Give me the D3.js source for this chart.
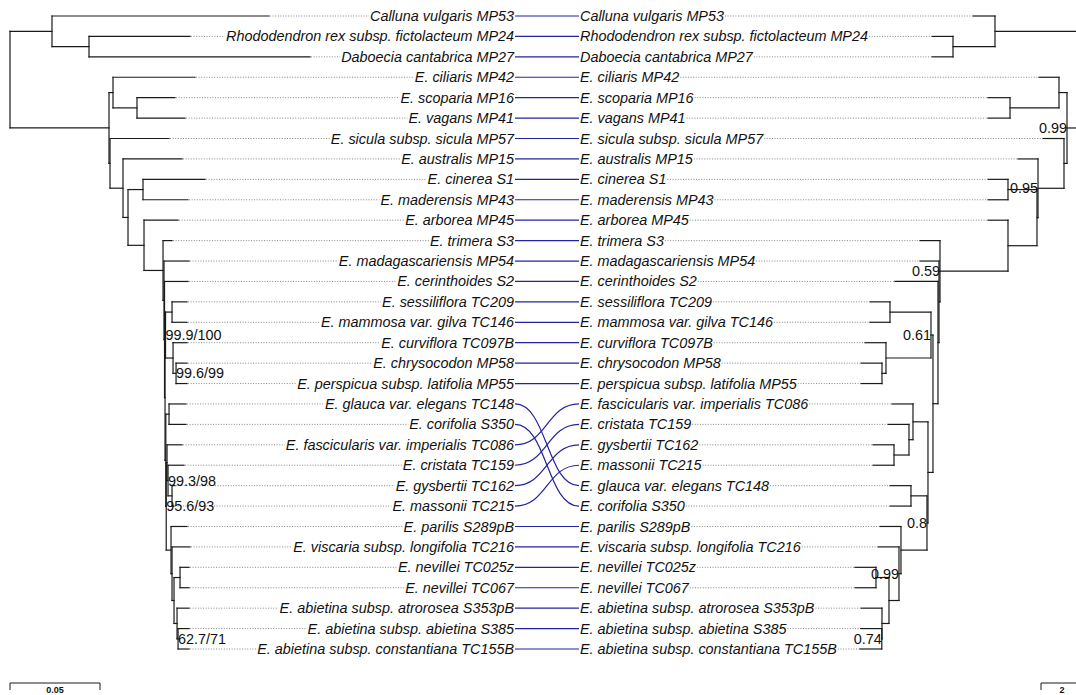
<!DOCTYPE html>
<html>
<head>
<meta charset="utf-8">
<script src="https://cdn.jsdelivr.net/npm/d3@7"></script>
<style>
  body { margin: 0; background: #fff; }
  svg { display: block; font-family: "Liberation Sans", Arial, Helvetica, sans-serif; }
</style>
</head>
<body>
<div id="chart"></div>
<script>
// tip code -> full label, in the order of the left tree
const taxa = [
  ["MP53", "Calluna vulgaris MP53"],
  ["MP24", "Rhododendron rex subsp. fictolacteum MP24"],
  ["MP27", "Daboecia cantabrica MP27"],
  ["MP42", "E. ciliaris MP42"],
  ["MP16", "E. scoparia MP16"],
  ["MP41", "E. vagans MP41"],
  ["MP57", "E. sicula subsp. sicula MP57"],
  ["MP15", "E. australis MP15"],
  ["S1", "E. cinerea S1"],
  ["MP43", "E. maderensis MP43"],
  ["MP45", "E. arborea MP45"],
  ["S3", "E. trimera S3"],
  ["MP54", "E. madagascariensis MP54"],
  ["S2", "E. cerinthoides S2"],
  ["TC209", "E. sessiliflora TC209"],
  ["TC146", "E. mammosa var. gilva TC146"],
  ["TC097B", "E. curviflora TC097B"],
  ["MP58", "E. chrysocodon MP58"],
  ["MP55", "E. perspicua subsp. latifolia MP55"],
  ["TC148", "E. glauca var. elegans TC148"],
  ["S350", "E. corifolia S350"],
  ["TC086", "E. fascicularis var. imperialis TC086"],
  ["TC159", "E. cristata TC159"],
  ["TC162", "E. gysbertii TC162"],
  ["TC215", "E. massonii TC215"],
  ["S289pB", "E. parilis S289pB"],
  ["TC216", "E. viscaria subsp. longifolia TC216"],
  ["TC025z", "E. nevillei TC025z"],
  ["TC067", "E. nevillei TC067"],
  ["S353pB", "E. abietina subsp. atrorosea S353pB"],
  ["S385", "E. abietina subsp. abietina S385"],
  ["TC155B", "E. abietina subsp. constantiana TC155B"]
];

// left tree: [parent, child, branch length] (substitutions/site)
const leftEdges = [
  ["", "nRoot", 0],
  ["nRoot", "nOut", 0.02333],
  ["nOut", "MP53", 0.12056],
  ["nOut", "nRD", 0.02056],
  ["nRD", "MP24", 0.05611],
  ["nRD", "MP27", 0.12278],
  ["nRoot", "nIng", 0.05500],
  ["nIng", "nCil", 0.00222],
  ["nCil", "MP42", 0.04556],
  ["nCil", "nSV", 0.01333],
  ["nSV", "MP16", 0.02111],
  ["nSV", "MP41", 0.02667],
  ["nIng", "nN1", 0.00056],
  ["nN1", "MP57", 0.03278],
  ["nN1", "nN2", 0.00722],
  ["nN2", "MP15", 0.03278],
  ["nN2", "nN3", 0.00278],
  ["nN3", "nCM", 0.00833],
  ["nCM", "S1", 0.03444],
  ["nCM", "MP43", 0.02500],
  ["nN3", "nN4", 0.00889],
  ["nN4", "MP45", 0.01889],
  ["nN4", "nMain", 0.01056],
  ["nMain", "S3", 0.00500],
  ["nMain", "nM2", 0.00056],
  ["nM2", "MP54", 0.01389],
  ["nM2", "nM3", 0.00028],
  ["nM3", "S2", 0.01306],
  ["nM3", "nM4", 0.00028],
  ["nM4", "nSM", 0.00028],
  ["nSM", "nSSM", 0.00361],
  ["nSSM", "TC209", 0.00833],
  ["nSSM", "TC146", 0.00833],
  ["nSM", "nCurv", 0.00417],
  ["nCurv", "TC097B", 0.00778],
  ["nCurv", "nCP", 0.00167],
  ["nCP", "MP58", 0.00611],
  ["nCP", "MP55", 0.00611],
  ["nM4", "nH", 0.00044],
  ["nH", "nGC", 0.00178],
  ["nGC", "TC148", 0.00944],
  ["nGC", "S350", 0.00944],
  ["nH", "nG", 0.00022],
  ["nG", "nF3", 0.00044],
  ["nF3", "TC086", 0.00833],
  ["nF3", "nF2", 0.00056],
  ["nF2", "TC159", 0.00889],
  ["nF2", "nF1", 0.00222],
  ["nF1", "TC162", 0.00167],
  ["nF1", "TC215", 0.00111],
  ["nG", "nPC", 0.00267],
  ["nPC", "S289pB", 0.00889],
  ["nPC", "nQ", 0.00056],
  ["nQ", "TC216", 0.01000],
  ["nQ", "nR", 0.00111],
  ["nR", "nNev", 0.00333],
  ["nNev", "TC025z", 0.00500],
  ["nNev", "TC067", 0.00500],
  ["nR", "nS", 0.00167],
  ["nS", "S353pB", 0.00667],
  ["nS", "nAC", 0.00056],
  ["nAC", "S385", 0.00611],
  ["nAC", "TC155B", 0.00611]
];
const leftSupport = [
  ["nSM", "99.9/100"],
  ["nCP", "99.6/99"],
  ["nF2", "99.3/98"],
  ["nG", "95.6/93"],
  ["nAC", "62.7/71"]
];

// right tree: [parent, child, branch length]
const rightEdges = [
  ["", "nRoot", 0],
  ["nRoot", "nOut", 4.048],
  ["nOut", "MP53", 1.048],
  ["nOut", "nRD", 2.0],
  ["nRD", "MP24", 1.0],
  ["nRD", "MP27", 1.0],
  ["nRoot", "nIng", 0.619],
  ["nIng", "nCil", 0.381],
  ["nCil", "MP42", 0.952],
  ["nCil", "nSV", 2.333],
  ["nSV", "MP16", 1.048],
  ["nSV", "MP41", 1.048],
  ["nIng", "nN1", 0.143],
  ["nN1", "MP57", 1.0],
  ["nN1", "nA", 1.238],
  ["nA", "MP15", 0.952],
  ["nA", "nB", 0.048],
  ["nB", "nCM", 1.381],
  ["nCM", "S1", 0.952],
  ["nCM", "MP43", 0.952],
  ["nB", "nC", 1.381],
  ["nC", "MP45", 0.952],
  ["nC", "nD", 3.238],
  ["nD", "S3", 0.952],
  ["nD", "nX", 0.048],
  ["nX", "MP54", 0.905],
  ["nX", "nW", 0.048],
  ["nW", "S2", 2.048],
  ["nW", "nV", 0.238],
  ["nV", "nK", 0.095],
  ["nK", "nSSM", 1.952],
  ["nSSM", "TC209", 0.952],
  ["nSSM", "TC146", 0.952],
  ["nK", "nCurv", 2.143],
  ["nCurv", "TC097B", 1.0],
  ["nCurv", "nCP", 0.19],
  ["nCP", "MP58", 1.0],
  ["nCP", "MP55", 1.0],
  ["nV", "nU", 0.238],
  ["nU", "nG2", 0.714],
  ["nG2", "TC086", 1.0],
  ["nG2", "nG1", 0.19],
  ["nG1", "TC159", 1.0],
  ["nG1", "nGM", 0.714],
  ["nGM", "TC162", 1.0],
  ["nGM", "TC215", 1.0],
  ["nU", "nT", 0.048],
  ["nT", "nGC", 0.762],
  ["nGC", "TC148", 1.0],
  ["nGC", "S350", 1.0],
  ["nT", "nP", 1.238],
  ["nP", "S289pB", 1.0],
  ["nP", "nQ", 0.095],
  ["nQ", "TC216", 1.0],
  ["nQ", "nR", 0.476],
  ["nR", "nNev", 0.619],
  ["nNev", "TC025z", 1.0],
  ["nNev", "TC067", 1.0],
  ["nR", "nS", 0.333],
  ["nS", "S353pB", 1.0],
  ["nS", "nAC", 0.01],
  ["nAC", "S385", 1.0],
  ["nAC", "TC155B", 1.048]
];
const rightSupport = [
  ["nIng", "0.99"],
  ["nA", "0.95"],
  ["nD", "0.59"],
  ["nK", "0.61"],
  ["nT", "0.8"],
  ["nQ", "0.99"],
  ["nAC", "0.74"]
];

const width = 1076, height = 695;
const fontSize = 14.4;
const labelEndL = 514, labelStartR = 580;
const linkColor = "#2323a0";

const svg = d3.select("#chart").append("svg")
  .attr("width", width)
  .attr("height", height);

const nameOf = new Map(taxa);

// scales
const yTip = d3.scaleLinear().domain([0, taxa.length - 1]).range([16, 649]);
const xL = d3.scaleLinear().domain([0, 0.05]).range([10, 100]);
const xR = d3.scaleLinear().domain([0, 2]).range([1080, 1038]);

function buildTree(edges) {
  let root = d3.stratify().id(d => d[1]).parentId(d => d[0])(edges);
  root.eachBefore(n => { n.dist = n.parent ? n.parent.dist + n.data[2] : 0; });
  root.leaves().forEach((n, i) => { n.y = yTip(i); });
  // ape style: parent sits at the mean of its children
  root.eachAfter(n => { if (n.children) n.y = d3.mean(n.children, c => c.y); });
  return root;
}

let leftTree = buildTree(leftEdges);
let rightTree = buildTree(rightEdges);

function drawTree(root, xs, cls) {
  let segs = [];
  root.each(n => {
    if (n.parent) segs.push([xs(n.parent.dist), n.y, xs(n.dist), n.y]);
    if (n.children) {
      let c = n.children;
      segs.push([xs(n.dist), c[0].y, xs(n.dist), c[c.length - 1].y]);
    }
  });
  svg.append("g").attr("class", cls)
    .selectAll("line").data(segs).join("line")
    .attr("x1", d => d[0]).attr("y1", d => d[1])
    .attr("x2", d => d[2]).attr("y2", d => d[3])
    .attr("stroke", "#1a1a1a")
    .attr("stroke-width", 1.2)
    .attr("stroke-linecap", "square");
}

function drawTips(root, xs, side) {
  let g = svg.append("g").attr("class", "tips-" + side);
  let leaves = root.leaves();
  let dots = g.append("g");
  let labels = g.selectAll("text").data(leaves).join("text")
    .attr("x", side == "left" ? labelEndL : labelStartR)
    .attr("y", d => d.y)
    .attr("dy", "0.35em")
    .attr("text-anchor", side == "left" ? "end" : "start")
    .attr("font-size", fontSize)
    .attr("font-style", "italic")
    .attr("fill", "#111")
    .text(d => nameOf.get(d.id));

  labels.each(function(d) {
    let w = this.getComputedTextLength();
    let tipX = xs(d.dist);
    let x1 = side == "left" ? tipX + 1 : labelStartR + w + 1;
    let x2 = side == "left" ? labelEndL - w - 1 : tipX - 1;
    if (x2 > x1) {
      dots.append("line")
        .attr("x1", x1).attr("x2", x2)
        .attr("y1", d.y).attr("y2", d.y)
        .attr("stroke", "#7a7a7a")
        .attr("stroke-width", 0.9)
        .attr("stroke-dasharray", "1,1.6");
    }
  });
}

function drawSupport(root, xs, support, side) {
  let byId = new Map(root.descendants().map(n => [n.id, n]));
  svg.append("g").selectAll("text").data(support).join("text")
    .attr("x", d => xs(byId.get(d[0]).dist))
    .attr("y", d => byId.get(d[0]).y)
    .attr("dy", "0.35em")
    .attr("text-anchor", side == "left" ? "start" : "end")
    .attr("font-size", fontSize)
    .attr("fill", "#111")
    .text(d => d[1]);
}

drawTree(leftTree, xL, "left-tree");
drawTree(rightTree, xR, "right-tree");
drawTips(leftTree, xL, "left");
drawTips(rightTree, xR, "right");
drawSupport(leftTree, xL, leftSupport, "left");
drawSupport(rightTree, xR, rightSupport, "right");

// connecting lines between the same taxon in both trees
let yLeft = new Map(leftTree.leaves().map(n => [n.id, n.y]));
let yRight = new Map(rightTree.leaves().map(n => [n.id, n.y]));
let link = d3.linkHorizontal().x(d => d[0]).y(d => d[1]);
svg.append("g").attr("class", "links")
  .selectAll("path").data(taxa).join("path")
  .attr("d", d => link({ source: [labelEndL + 1, yLeft.get(d[0])], target: [labelStartR - 1, yRight.get(d[0])] }))
  .attr("fill", "none")
  .attr("stroke", linkColor)
  .attr("stroke-width", 1.2);

// scale bars
function scaleBar(x0, len, label) {
  let g = svg.append("g");
  g.append("path")
    .attr("d", `M${x0},690V683H${x0 + len}V690`)
    .attr("fill", "none")
    .attr("stroke", "#1a1a1a")
    .attr("stroke-width", 1);
  g.append("text")
    .attr("x", x0 + len / 2)
    .attr("y", 693)
    .attr("text-anchor", "middle")
    .attr("font-size", 9)
    .attr("font-weight", "bold")
    .attr("fill", "#111")
    .text(label);
}
scaleBar(xL(0), xL(0.05) - xL(0), "0.05");
scaleBar(1041, xR(0) - xR(2), "2");
</script>
</body>
</html>
